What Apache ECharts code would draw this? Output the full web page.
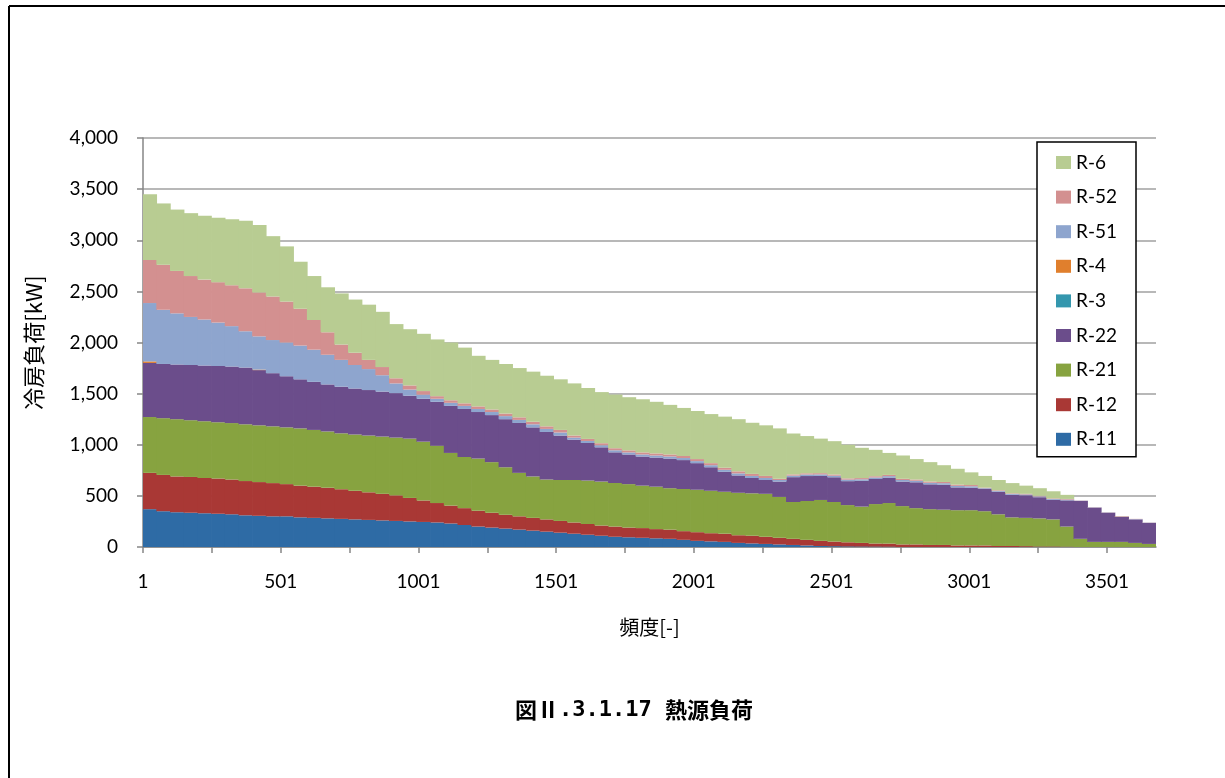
<!DOCTYPE html>
<html><head><meta charset="utf-8">
<script src="https://cdn.jsdelivr.net/npm/echarts@6/dist/echarts.min.js"></script>
<style>html,body{margin:0;padding:0;background:#fff}#c{width:1225px;height:778px}</style>
</head><body><div id="c"></div><script>
// Frequency-sorted hours, grouped into 74 consecutive bins (about 50 hours each, 3678 hours total)
const totalHours = 3678;
const seriesNames = ['R-11','R-12','R-21','R-22','R-3','R-4','R-51','R-52','R-6'];
const legendOrder = ['R-6','R-52','R-51','R-4','R-3','R-22','R-21','R-12','R-11'];
const seriesColors = ['#2E6BA5','#A93835','#87A340','#6B4D8B','#3497AE','#E07F2D','#8EA5CE','#D39090','#B8CC92'];

const r11 = [370,350,340,335,330,325,320,310,305,300, 300,290,285,280,275,270,265,260,255,250, 245,240,230,215,200,190,180,170,160,150, 140,130,120,110,100,95,90,85,80,70, 60,55,50,40,35,30,25,20,15,10, 8,6,5,4,3,0,0,0,0,0, 0,0,0,0,0,0,0,0,0,0, 0,0,0,0];
const r12 = [355,355,350,350,345,345,340,335,330,325, 315,310,305,300,290,280,270,260,250,230, 210,190,175,165,155,145,135,130,125,120, 115,110,105,100,100,95,95,90,90,85, 85,80,80,75,75,70,65,60,55,50, 45,40,35,30,30,25,25,20,20,15, 15,15,10,10,8,5,5,3,0,0, 0,0,0,0];
const r21 = [546,555,560,555,555,550,552,555,555,555, 555,560,555,550,547,550,555,560,565,580, 575,560,515,500,510,495,465,425,405,390, 400,415,425,430,426,425,415,415,405,412, 415,415,410,415,415,420,400,360,380,400, 387,364,355,386,397,375,355,350,345,345, 345,335,310,280,277,275,265,197,80,50, 50,50,40,30];
const r22 = [529,530,535,540,545,550,553,555,540,520, 500,480,470,460,456,450,445,440,435,420, 420,430,460,470,455,460,470,488,480,465, 435,395,367,335,300,290,285,285,290,283, 260,230,195,170,150,135,150,243,244,235, 242,234,252,245,248,240,253,243,244,223, 219,217,221,221,221,207,191,256,370,335, 285,244,230,205];
const r3  = [0,0,0,0,0,0,0,0,0,0, 0,0,0,0,0,0,0,0,0,0, 0,0,0,0,0,0,0,0,0,0, 0,0,0,0,0,0,0,0,0,0, 0,0,0,0,0,0,0,0,0,0, 0,0,0,0,0,0,0,0,0,0, 0,0,0,0,0,0,0,0,0,0, 0,0,0,0];
const r4  = [15,0,0,0,0,0,0,0,5,0, 0,0,0,0,0,0,0,0,0,0, 0,0,0,0,0,0,0,0,0,0, 0,0,0,0,0,0,0,0,0,0, 0,0,0,0,0,0,0,0,0,0, 0,0,0,0,0,0,0,0,0,0, 0,0,0,0,0,0,0,0,0,0, 0,3,0,0];
const r51 = [571,530,500,470,450,425,395,355,325,324, 330,330,315,290,262,230,205,160,95,60, 40,30,30,30,30,30,30,30,30,30, 30,20,20,20,20,20,20,20,20,20, 20,20,20,20,20,20,15,15,15,15, 15,15,15,15,15,15,15,15,15,15, 15,8,8,8,8,8,8,8,3,3, 3,3,3,3];
const r52 = [421,440,415,400,390,395,400,420,430,426, 400,360,290,220,150,120,90,80,50,40, 35,25,25,25,25,25,25,25,25,25, 25,20,20,20,20,20,20,20,20,20, 20,20,20,20,20,20,12,12,12,12, 12,12,12,12,12,12,12,12,12,12, 12,6,6,6,6,6,6,6,2,2, 2,2,2,2];
const r6  = [643,600,600,615,625,630,645,660,660,590, 540,460,430,440,500,520,540,540,530,550, 560,555,565,545,495,485,485,482,490,495, 495,510,498,500,525,520,520,505,485,470, 470,480,500,510,500,495,493,400,364,338, 326,329,296,258,215,228,200,190,164,155, 124,114,100,100,80,74,70,40,0,0, 0,0,0,0];
const seriesData = [r11, r12, r21, r22, r3, r4, r51, r52, r6];

const xTickValues = [0,250,500,750,1000,1250,1500,1750,2000,2250,2500,2750,3000,3250,3500];
const xLabelValues = [0,500,1000,1500,2000,2500,3000,3500];
const xTickLabels = ['1','501','1001','1501','2001','2501','3001','3501'];

const binLabels = r11.map((_, i) => 'bin' + (i + 1));

const numFont = 'Lato';
const cjkFont = 'Noto Sans CJK JP';

const chart = echarts.init(document.getElementById('c'), null, {renderer: 'canvas'});
chart.setOption({
  animation: false,
  backgroundColor: '#fff',
  title: {
    text: '{a|図Ⅱ}{b|.3.1.17 }{a|熱源負荷}',
    left: 515, top: 699, padding: 0,
    textStyle: { rich: {
      a: {fontFamily: cjkFont, fontWeight: 'bold', fontSize: 22, color: '#000'},
      b: {fontFamily: 'DejaVu Sans Mono', fontWeight: 'bold', fontSize: 22, color: '#000'}
    }}
  },
  graphic: [
    {type: 'line', shape: {x1: 9, y1: 6, x2: 1225, y2: 6}, style: {stroke: '#000', lineWidth: 2}, silent: true},
    {type: 'line', shape: {x1: 9, y1: 6, x2: 9, y2: 778}, style: {stroke: '#000', lineWidth: 2}, silent: true}
  ],
  legend: {
    orient: 'vertical', left: 1037, top: 142,
    data: legendOrder, icon: 'rect', itemWidth: 15, itemHeight: 13, itemGap: 15.6,
    padding: [11, 19, 8, 19],
    borderColor: '#000', borderWidth: 1.5, backgroundColor: '#fff',
    textStyle: {fontFamily: numFont, fontSize: 19, color: '#000'},
    selectedMode: false
  },
  grid: {left: 143, top: 138, right: 69, bottom: 231, containLabel: false},
  xAxis: [
    {type: 'category', data: binLabels, show: false, boundaryGap: true},
    {
      type: 'value', min: 0, max: totalHours, position: 'bottom',
      name: '頻度[-]', nameLocation: 'middle', nameGap: 70,
      nameTextStyle: {fontFamily: cjkFont, fontSize: 20, color: '#000'},
      axisLine: {show: true, onZero: false, lineStyle: {color: '#868686', width: 1.5}},
      axisTick: {show: true, customValues: xTickValues, length: 6, lineStyle: {color: '#868686', width: 1.5}},
      axisLabel: {customValues: xLabelValues, formatter: v => xTickLabels[xLabelValues.indexOf(v)],
        fontFamily: numFont, fontSize: 19, color: '#000', margin: 25},
      splitLine: {show: false}
    }
  ],
  yAxis: {
    type: 'value', min: 0, max: 4000, interval: 500,
    name: '冷房負荷[kW]', nameLocation: 'middle', nameGap: 98,
    nameTextStyle: {fontFamily: cjkFont, fontSize: 22, color: '#000'},
    axisLine: {show: true, lineStyle: {color: '#868686', width: 1.5}},
    axisTick: {show: true, length: 6, lineStyle: {color: '#868686', width: 1.5}},
    axisLabel: {fontFamily: numFont, fontSize: 19, color: '#000', margin: 25,
      formatter: v => v.toLocaleString('en-US')},
    splitLine: {lineStyle: {color: '#A0A0A0', width: 1.5}}
  },
  series: seriesNames.map((n, i) => ({
    name: n, type: 'bar', stack: 'total', xAxisIndex: 0, yAxisIndex: 0,
    data: seriesData[i], barWidth: 14.4, barGap: '-100%',
    itemStyle: {color: seriesColors[i], borderWidth: 0},
    emphasis: {disabled: true}
  }))
});
</script></body></html>
